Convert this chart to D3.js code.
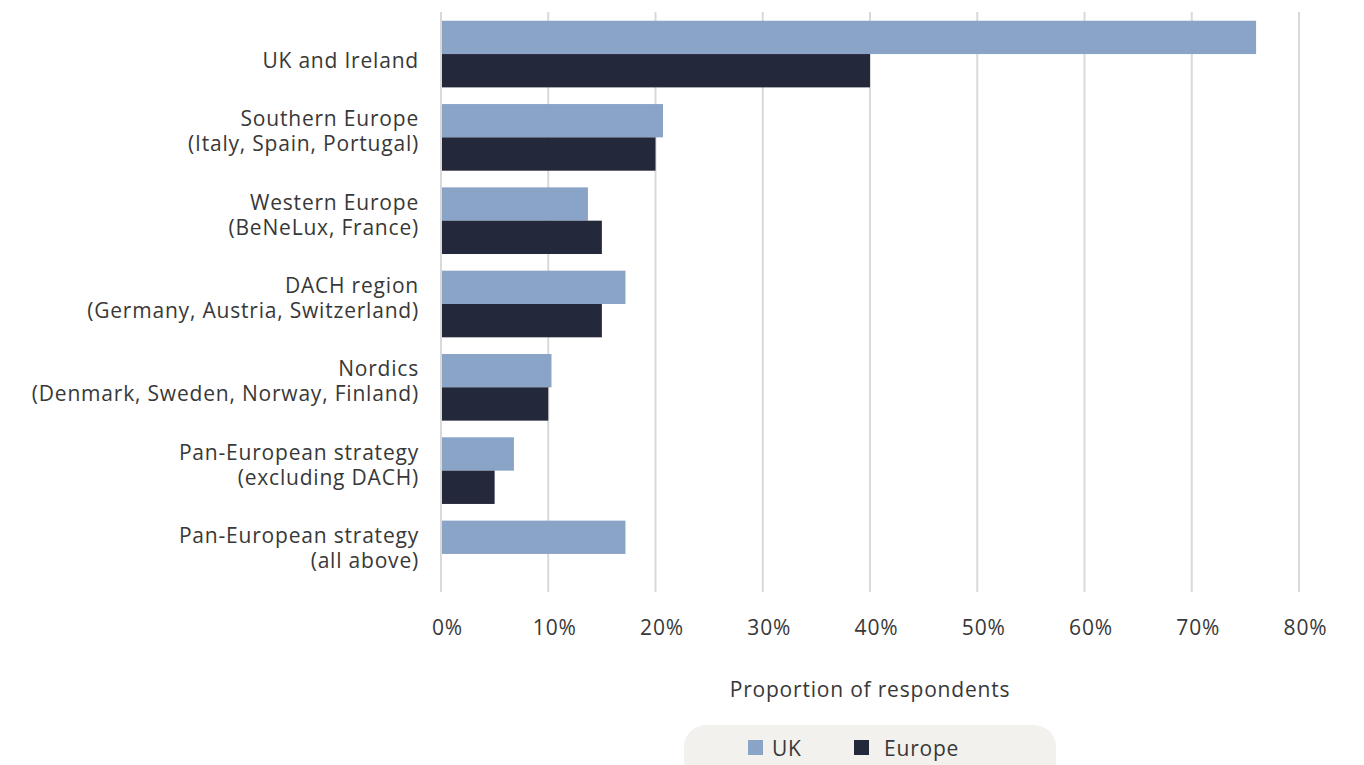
<!DOCTYPE html>
<html>
<head>
<meta charset="utf-8">
<script src="https://cdn.jsdelivr.net/npm/d3@7/dist/d3.min.js"></script>
<style>
  html, body { margin: 0; padding: 0; background: #ffffff; }
  svg { display: block; }
  text { font-family: "Open Sans", "Noto Sans", sans-serif; fill: #383838; letter-spacing: 0.8px; }
</style>
</head>
<body>
<svg id="chart" width="1364" height="765"></svg>
<script>
// Regions (each label line is a separate entry)
const categories = [
  ["UK and Ireland"],
  ["Southern Europe", "(Italy, Spain, Portugal)"],
  ["Western Europe", "(BeNeLux, France)"],
  ["DACH region", "(Germany, Austria, Switzerland)"],
  ["Nordics", "(Denmark, Sweden, Norway, Finland)"],
  ["Pan-European strategy", "(excluding DACH)"],
  ["Pan-European strategy", "(all above)"]
];
const seriesNames = ["UK", "Europe"];
const ukValues = [76, 20.7, 13.7, 17.2, 10.3, 6.8, 17.2];
const europeValues = [40, 20, 15, 15, 10, 5, 0];
const tickValues = [0, 10, 20, 30, 40, 50, 60, 70, 80];
const axisTitle = "Proportion of respondents";
const colors = { UK: "#8aa4c8", Europe: "#24283b" };

const svg = d3.select("#chart");
const plotLeft = 441, plotRight = 1299, plotTop = 12.4, plotBottom = 595.6;
const fontSize = "21px";

const x = d3.scaleLinear().domain([0, 80]).range([plotLeft, plotRight]);
const y0 = d3.scaleBand().domain(d3.range(categories.length)).range([plotTop, plotBottom]).paddingInner(0.2).paddingOuter(0.1);
const y1 = d3.scaleBand().domain(seriesNames).range([0, y0.bandwidth()]);

// Gridlines
svg.append("g")
  .selectAll("line")
  .data(tickValues)
  .join("line")
  .attr("x1", d => x(d)).attr("x2", d => x(d))
  .attr("y1", 12).attr("y2", 592)
  .attr("stroke", "#d9d9d9")
  .attr("stroke-width", 2);

// Bars
const rows = categories.map((c, i) => ({ i, UK: ukValues[i], Europe: europeValues[i] }));
const groups = svg.append("g")
  .selectAll("g")
  .data(rows)
  .join("g")
  .attr("transform", d => `translate(0,${y0(d.i)})`);

groups.selectAll("rect")
  .data(d => seriesNames.map(s => ({ s, v: d[s] })))
  .join("rect")
  .attr("x", x(0) + 1)
  .attr("y", d => y1(d.s))
  .attr("width", d => Math.max(0, x(d.v) - x(0) - 1))
  .attr("height", y1.bandwidth())
  .attr("fill", d => colors[d.s]);

// Category labels, right-aligned, last line near band centre
const labelGroup = svg.append("g");
categories.forEach((lines, i) => {
  const cy = y0(i) + y0.bandwidth() / 2;
  const n = lines.length;
  lines.forEach((t, j) => {
    labelGroup.append("text")
      .attr("x", 419)
      .attr("y", cy + 6 - (n - 1 - j) * 25)
      .attr("text-anchor", "end")
      .attr("dominant-baseline", "central")
      .style("font-size", fontSize)
      .text(t);
  });
});

// X axis tick labels
const xAxis = d3.axisBottom(x)
  .tickValues(tickValues)
  .tickFormat(d => d + "%")
  .tickSize(0)
  .tickPadding(0);
const axisG = svg.append("g")
  .attr("transform", "translate(6,627)")
  .call(xAxis);
axisG.select(".domain").remove();
axisG.selectAll("text")
  .attr("dy", null)
  .attr("dominant-baseline", "central")
  .style("font-size", fontSize)
  .style("font-family", "'Open Sans', 'Noto Sans', sans-serif")
  .attr("fill", "#383838");

// Axis title
svg.append("text")
  .attr("x", 870)
  .attr("y", 689)
  .attr("text-anchor", "middle")
  .attr("dominant-baseline", "central")
  .style("font-size", fontSize)
  .text(axisTitle);

// Legend
const legend = svg.append("g");
legend.append("rect")
  .attr("x", 684).attr("y", 725)
  .attr("width", 372).attr("height", 60)
  .attr("rx", 22)
  .attr("fill", "#f2f1ed");
const legendPos = [{ s: "UK", x: 748, tx: 772 }, { s: "Europe", x: 854, tx: 884 }];
legendPos.forEach(p => {
  legend.append("rect")
    .attr("x", p.x).attr("y", 740)
    .attr("width", 15).attr("height", 15)
    .attr("fill", colors[p.s]);
  legend.append("text")
    .attr("x", p.tx)
    .attr("y", 748)
    .attr("dominant-baseline", "central")
    .style("font-size", fontSize)
    .text(p.s);
});
</script>
</body>
</html>
